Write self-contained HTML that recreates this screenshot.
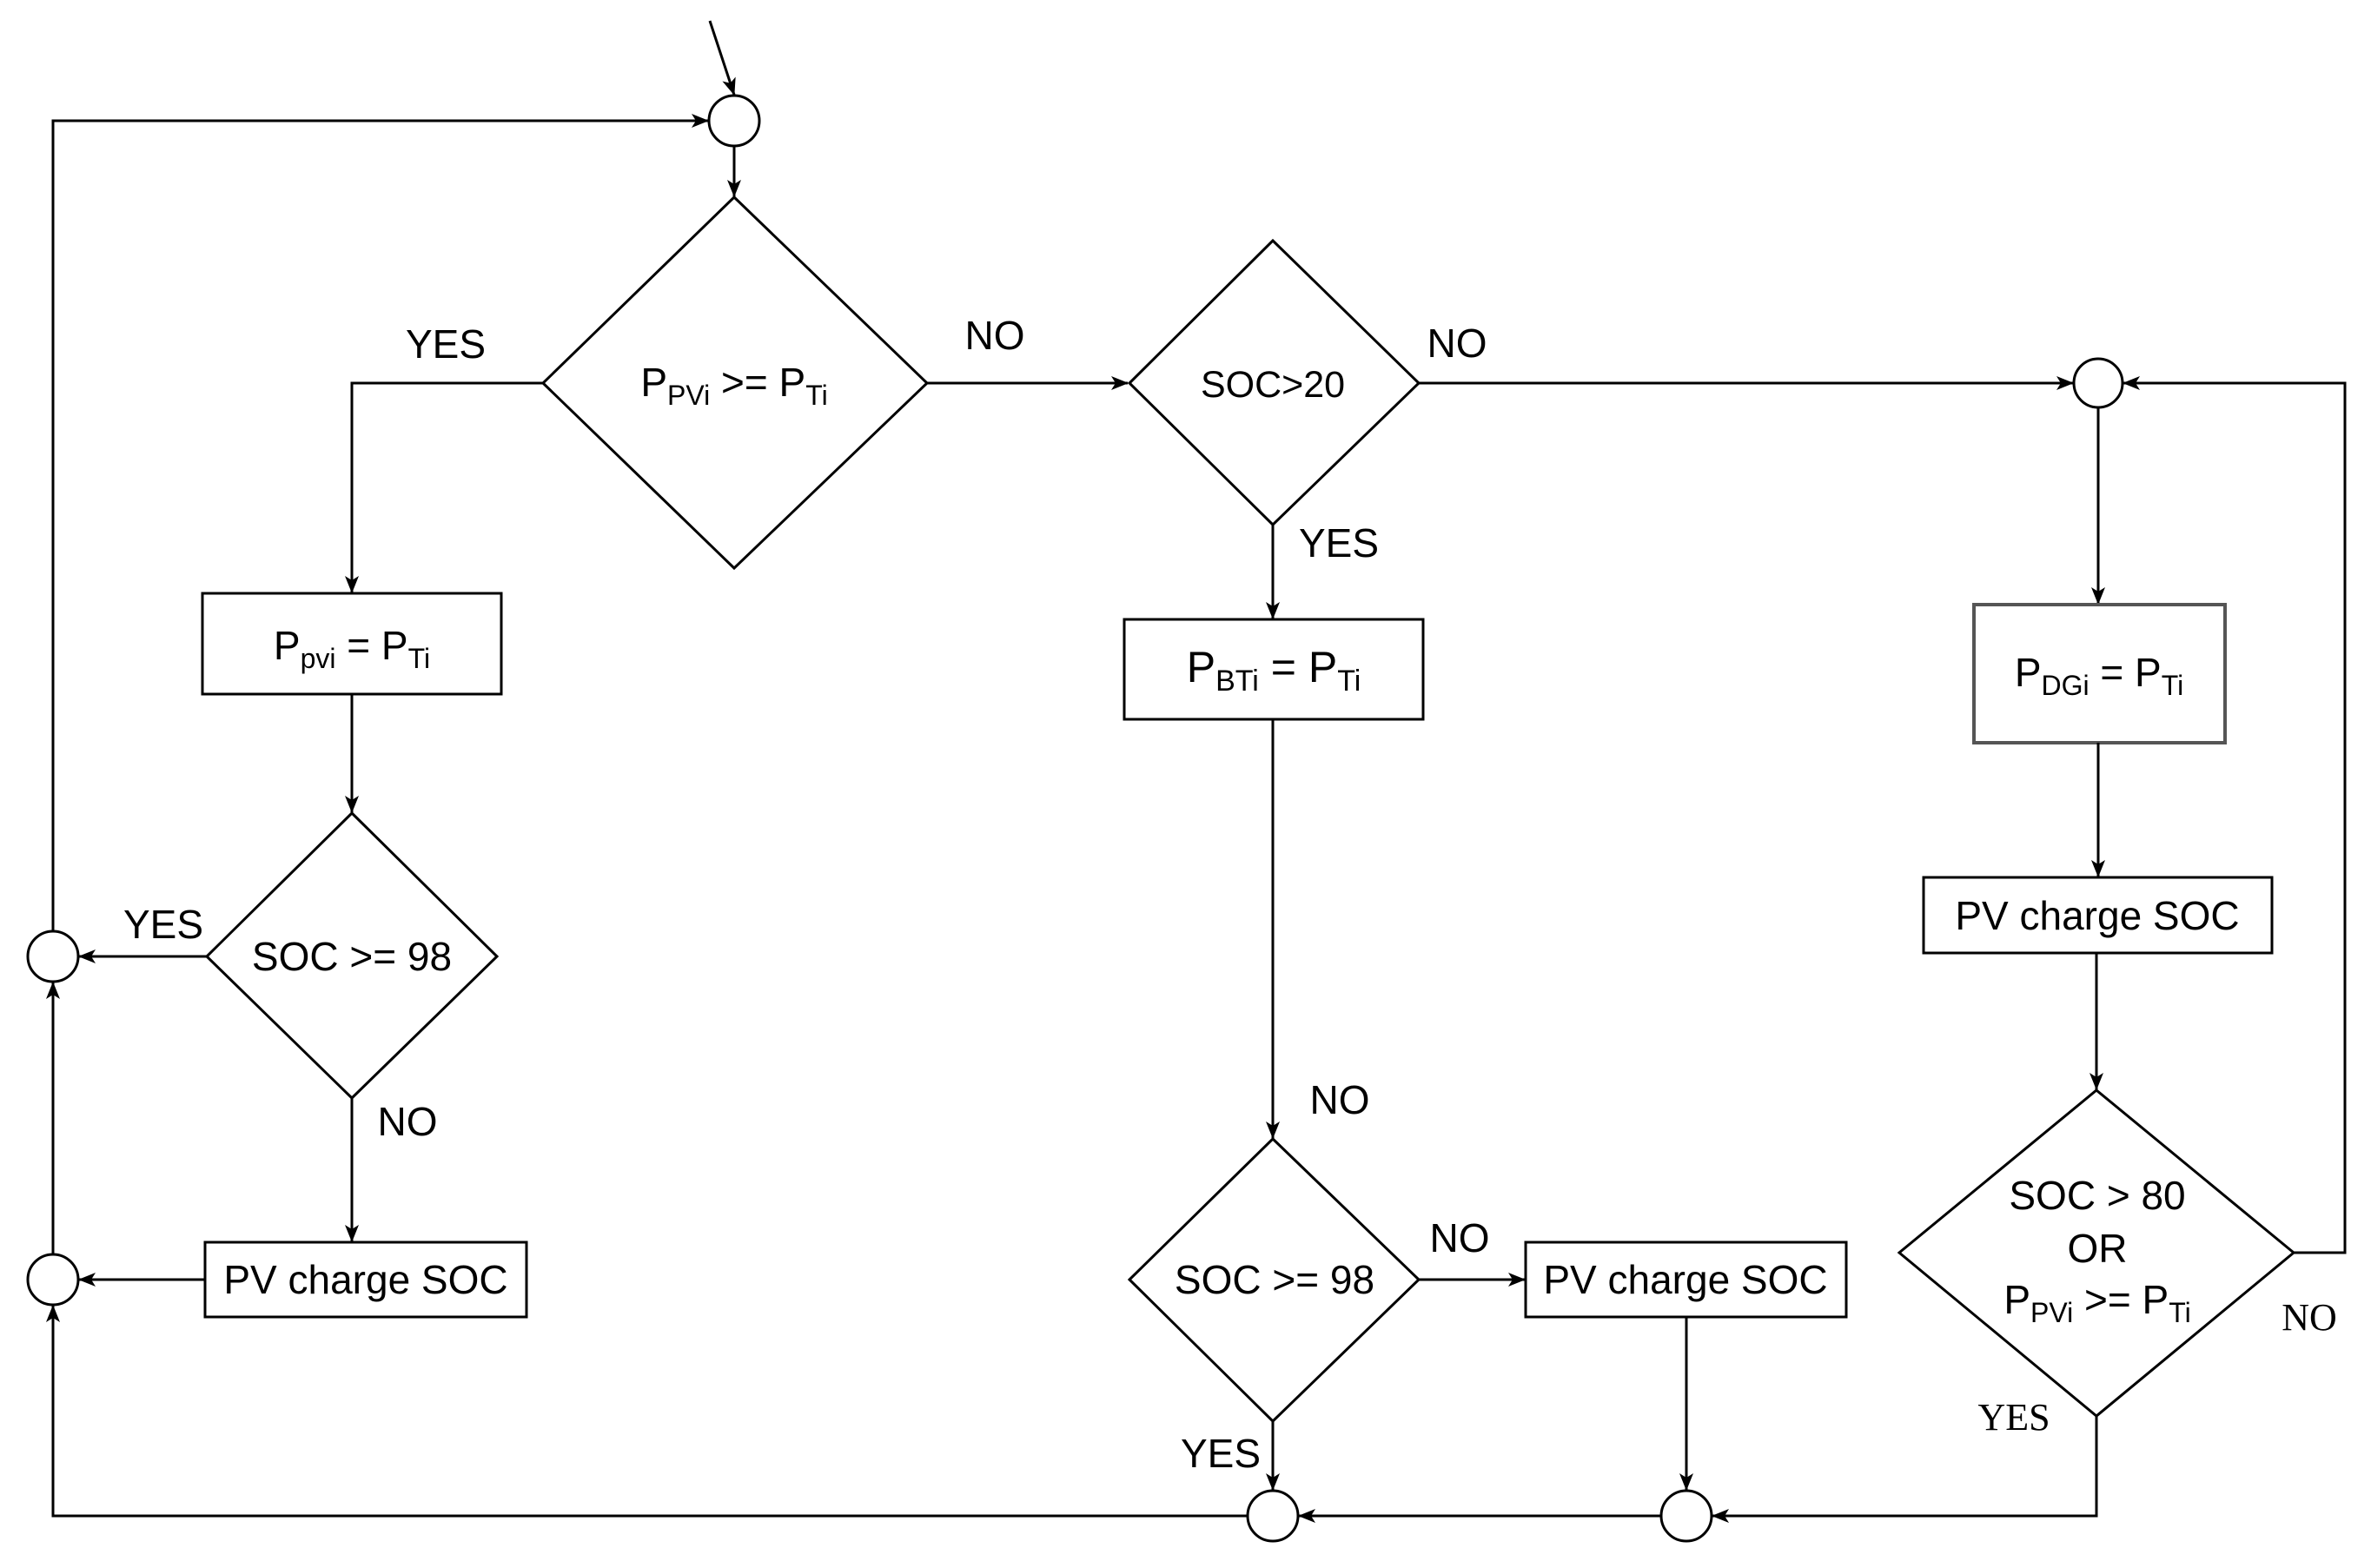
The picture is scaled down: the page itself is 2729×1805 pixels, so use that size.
<!DOCTYPE html>
<html><head><meta charset="utf-8"><style>html,body{margin:0;padding:0;background:#fff}svg{display:block}</style></head>
<body>
<svg width="2729" height="1805" viewBox="0 0 2729 1805" xmlns="http://www.w3.org/2000/svg" font-family="Liberation Sans, Arial, sans-serif" font-size="46" fill="none" stroke="#000" stroke-width="3">
<defs>
<marker id="a" viewBox="0 0 20 20" refX="19" refY="10" markerWidth="20" markerHeight="20" markerUnits="userSpaceOnUse" orient="auto">
<path d="M0,2 L20,10 L0,18 L5,10 Z" fill="#000" stroke="none"/>
</marker>
</defs>
<!-- entry -->
<line x1="817" y1="24" x2="845" y2="109" marker-end="url(#a)"/>
<circle cx="845" cy="139" r="29"/>
<line x1="845" y1="168" x2="845" y2="226" marker-end="url(#a)"/>
<!-- diamond 1 -->
<polygon points="845,227 1067,441 845,654 625,441"/>
<polyline points="625,441 405,441 405,682" marker-end="url(#a)"/>
<line x1="1067" y1="441" x2="1298" y2="441" marker-end="url(#a)"/>
<!-- box1 -->
<rect x="233" y="683" width="344" height="116"/>
<line x1="405" y1="799" x2="405" y2="935" marker-end="url(#a)"/>
<!-- diamond 5 -->
<polygon points="405,936 572,1101 405,1264 238,1101"/>
<line x1="238" y1="1101" x2="91" y2="1101" marker-end="url(#a)"/>
<circle cx="61" cy="1101" r="29"/>
<line x1="405" y1="1264" x2="405" y2="1429" marker-end="url(#a)"/>
<rect x="236" y="1430" width="370" height="86"/>
<line x1="236" y1="1473" x2="91" y2="1473" marker-end="url(#a)"/>
<circle cx="61" cy="1473" r="29"/>
<line x1="61" y1="1444" x2="61" y2="1131" marker-end="url(#a)"/>
<polyline points="61,1072 61,139 815,139" marker-end="url(#a)"/>
<polyline points="1436,1745 61,1745 61,1503" marker-end="url(#a)"/>
<!-- diamond 2 -->
<polygon points="1465,277 1633,441 1465,604 1300,441"/>
<line x1="1633" y1="441" x2="2386" y2="441" marker-end="url(#a)"/>
<line x1="1465" y1="604" x2="1465" y2="712" marker-end="url(#a)"/>
<rect x="1294" y="713" width="344" height="115"/>
<line x1="1465" y1="828" x2="1465" y2="1310" marker-end="url(#a)"/>
<!-- diamond 3 -->
<polygon points="1465,1311 1633,1473 1465,1636 1300,1473"/>
<line x1="1633" y1="1473" x2="1755" y2="1473" marker-end="url(#a)"/>
<rect x="1756" y="1430" width="369" height="86"/>
<line x1="1941" y1="1516" x2="1941" y2="1715" marker-end="url(#a)"/>
<line x1="1465" y1="1636" x2="1465" y2="1715" marker-end="url(#a)"/>
<circle cx="1465" cy="1745" r="29"/>
<circle cx="1941" cy="1745" r="29"/>
<line x1="1912" y1="1745" x2="1495" y2="1745" marker-end="url(#a)"/>
<!-- right column -->
<circle cx="2415" cy="441" r="28"/>
<line x1="2415" y1="469" x2="2415" y2="695" marker-end="url(#a)"/>
<rect x="2272" y="696" width="289" height="159" stroke="#555" stroke-width="4"/>
<line x1="2415" y1="855" x2="2415" y2="1009" marker-end="url(#a)"/>
<rect x="2214" y="1010" width="401" height="87"/>
<line x1="2413" y1="1097" x2="2413" y2="1254" marker-end="url(#a)"/>
<polygon points="2413,1255 2640,1442 2413,1630 2186,1442"/>
<polyline points="2640,1442 2699,1442 2699,441 2444,441" marker-end="url(#a)"/>
<polyline points="2413,1630 2413,1745 1971,1745" marker-end="url(#a)"/>

<g fill="#000" stroke="none">
<text x="845" y="456" text-anchor="middle">P<tspan font-size="32" dy="10">PVi</tspan><tspan dy="-10"> &gt;= P</tspan><tspan font-size="32" dy="10">Ti</tspan></text>
<text x="405" y="759" text-anchor="middle">P<tspan font-size="32" dy="10">pvi</tspan><tspan dy="-10"> = P</tspan><tspan font-size="32" dy="10">Ti</tspan></text>
<text x="405" y="1117" text-anchor="middle">SOC &gt;= 98</text>
<text x="421" y="1489" text-anchor="middle">PV charge SOC</text>
<text x="1465" y="457" text-anchor="middle" font-size="43">SOC&gt;20</text>
<text x="1466" y="785" text-anchor="middle" font-size="50">P<tspan font-size="34" dy="10">BTi</tspan><tspan dy="-10"> = P</tspan><tspan font-size="34" dy="10">Ti</tspan></text>
<text x="1467" y="1489" text-anchor="middle">SOC &gt;= 98</text>
<text x="1940" y="1489" text-anchor="middle">PV charge SOC</text>
<text x="2416" y="790" text-anchor="middle">P<tspan font-size="32" dy="10">DGi</tspan><tspan dy="-10"> = P</tspan><tspan font-size="32" dy="10">Ti</tspan></text>
<text x="2414" y="1070" text-anchor="middle">PV charge SOC</text>
<text x="2414" y="1392" text-anchor="middle">SOC &gt; 80</text>
<text x="2414" y="1453" text-anchor="middle">OR</text>
<text x="2414" y="1512" text-anchor="middle">P<tspan font-size="32" dy="10">PVi</tspan><tspan dy="-10"> &gt;= P</tspan><tspan font-size="32" dy="10">Ti</tspan></text>
<text x="513" y="412" text-anchor="middle">YES</text>
<text x="1145" y="402" text-anchor="middle">NO</text>
<text x="1677" y="411" text-anchor="middle">NO</text>
<text x="1541" y="641" text-anchor="middle">YES</text>
<text x="188" y="1080" text-anchor="middle">YES</text>
<text x="469" y="1307" text-anchor="middle">NO</text>
<text x="1542" y="1282" text-anchor="middle">NO</text>
<text x="1680" y="1441" text-anchor="middle">NO</text>
<text x="1405" y="1689" text-anchor="middle">YES</text>
<text x="2658" y="1531" text-anchor="middle" font-family="Liberation Serif, serif" font-size="44">NO</text>
<text x="2318" y="1646" text-anchor="middle" font-family="Liberation Serif, serif" font-size="44">YES</text>
</g>
</svg>
</body></html>
